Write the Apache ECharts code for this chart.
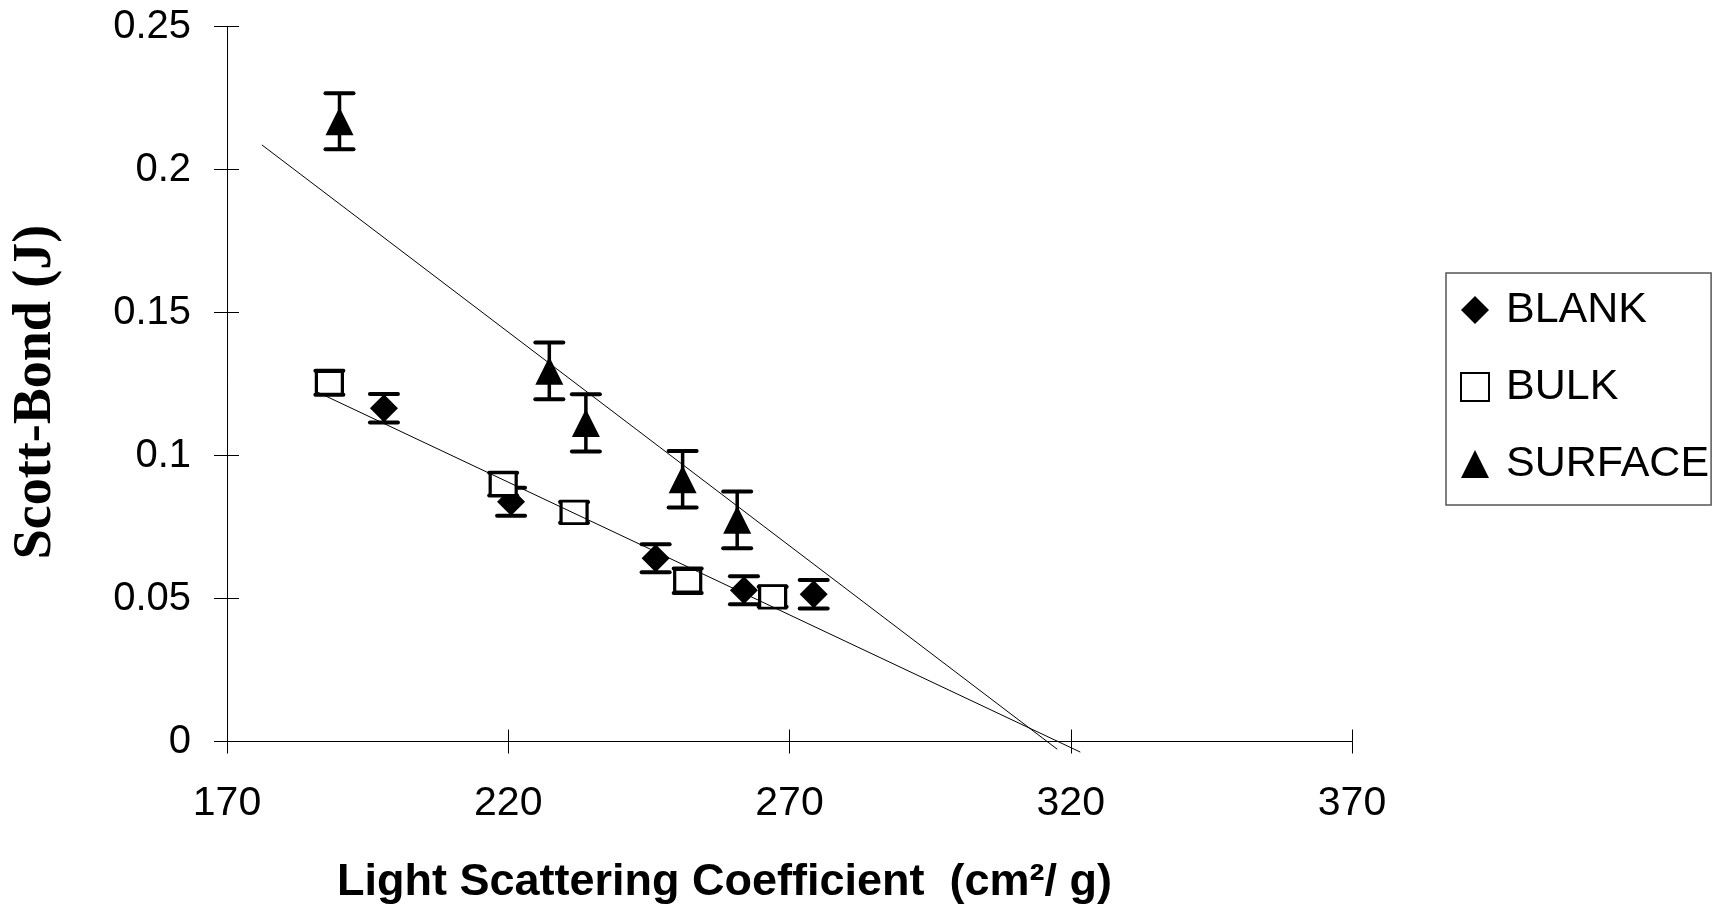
<!DOCTYPE html>
<html>
<head>
<meta charset="utf-8">
<title>Scott-Bond vs Light Scattering Coefficient</title>
<script src="https://cdn.jsdelivr.net/npm/echarts@6/dist/echarts.min.js"></script>
<style>
  html, body { margin: 0; padding: 0; background: #fff; }
  #chart { width: 1733px; height: 916px; }
</style>
</head>
<body>
<div id="chart"></div>
<script>
// data
var blankX = [197.9, 220.5, 246.2, 261.9, 274.3];
var blankY = [0.1165, 0.0838, 0.0641, 0.0529, 0.0515];
var blankErr = [0.005, 0.0049, 0.0049, 0.0049, 0.005];

var bulkX = [188.2, 219.1, 231.7, 251.9, 267.0];
var bulkY = [0.1254, 0.0900, 0.0801, 0.0562, 0.0506];
var bulkErr = [0.0042, 0.004, 0.0036, 0.0043, 0.0035];

var surfaceX = [190.0, 227.3, 233.8, 251.0, 260.7];
var surfaceY = [0.2169, 0.1296, 0.1114, 0.0917, 0.0775];
var surfaceErr = [0.0098, 0.0099, 0.01, 0.0099, 0.0099];

// trend line end points
var surfaceTrendX = [176.2, 317.6];
var surfaceTrendY = [0.2086, -0.0027];
var bulkTrendX = [185.7, 321.7];
var bulkTrendY = [0.1225, -0.0037];

var xTicks = [170, 370, 50];
var yTicks = [0, 0.25, 0.05];

function pts(xs, ys) {
    return xs.map(function (x, i) { return [x, ys[i]]; });
}
function errPts(xs, ys, es) {
    return xs.map(function (x, i) { return [x, ys[i], es[i]]; });
}

// error bar: stem + two caps
function renderErr(params, api) {
    var x = api.value(0), y = api.value(1), e = api.value(2);
    var top = api.coord([x, y + e]);
    var bot = api.coord([x, y - e]);
    var w = 14;
    var st = { stroke: '#000', lineWidth: 4, lineCap: 'round' };
    return {
        type: 'group',
        children: [
            { type: 'line', shape: { x1: top[0], y1: top[1], x2: bot[0], y2: bot[1] }, style: { stroke: '#000', lineWidth: 3.5 } },
            { type: 'line', shape: { x1: top[0] - w, y1: top[1], x2: top[0] + w, y2: top[1] }, style: st },
            { type: 'line', shape: { x1: bot[0] - w, y1: bot[1], x2: bot[0] + w, y2: bot[1] }, style: st }
        ]
    };
}

var sans = 'Liberation Sans, Arial, sans-serif';
var chart = echarts.init(document.getElementById('chart'));

var option = {
    backgroundColor: '#fff',
    animation: false,
    grid: { left: 227, top: 26.5, width: 1125, height: 715, outerBoundsMode: 'none' },
    legend: {
        orient: 'vertical',
        left: 1446,
        top: 273,
        padding: [14, 2, 18, 14],
        itemWidth: 28,
        itemHeight: 28,
        itemGap: 31,
        selectedMode: false,
        borderColor: '#555',
        borderWidth: 1.5,
        textStyle: { color: '#000', fontSize: 43, fontFamily: sans, lineHeight: 46, padding: [0, 0, 0, 12] },
        data: [
            { name: 'BLANK', icon: 'diamond' },
            { name: 'BULK', icon: 'rect' },
            { name: 'SURFACE', icon: 'triangle' }
        ]
    },
    xAxis: [{
        type: 'value',
        min: xTicks[0], max: xTicks[1], interval: xTicks[2],
        position: 'bottom',
        name: 'Light Scattering Coefficient  (cm²/ g)',
        nameLocation: 'middle',
        nameGap: 119,
        nameTextStyle: { color: '#000', fontSize: 45, fontWeight: 'bold', fontFamily: sans, padding: [0, 130, 0, 0] },
        splitLine: { show: false },
        axisLine: { show: true, lineStyle: { color: '#000', width: 1 } },
        axisTick: { show: true, inside: false, length: 12, lineStyle: { color: '#000', width: 1 } },
        axisLabel: { color: '#000', fontSize: 41, fontFamily: sans, margin: 42 }
    }, {
        type: 'value',
        min: xTicks[0], max: xTicks[1], interval: xTicks[2],
        position: 'bottom',
        offset: 0,
        splitLine: { show: false },
        axisLine: { show: false },
        axisTick: { show: true, inside: true, length: 12, lineStyle: { color: '#000', width: 1 } },
        axisLabel: { show: false }
    }],
    yAxis: [{
        type: 'value',
        min: yTicks[0], max: yTicks[1], interval: yTicks[2],
        position: 'left',
        name: 'Scott-Bond (J)',
        nameLocation: 'middle',
        nameGap: 164,
        nameTextStyle: { color: '#000', fontSize: 54, fontWeight: 'bold', fontFamily: 'Liberation Serif, Times New Roman, serif', padding: [0, 16, 0, 0] },
        splitLine: { show: false },
        axisLine: { show: true, lineStyle: { color: '#000', width: 1 } },
        axisTick: { show: true, inside: false, length: 13, lineStyle: { color: '#000', width: 1 } },
        axisLabel: { color: '#000', fontSize: 40, fontFamily: sans, margin: 36 }
    }, {
        type: 'value',
        min: yTicks[0], max: yTicks[1], interval: yTicks[2],
        position: 'left',
        offset: 0,
        splitLine: { show: false },
        axisLine: { show: false },
        axisTick: { show: true, inside: true, length: 12, lineStyle: { color: '#000', width: 1 } },
        axisLabel: { show: false }
    }],
    series: [
        {
            name: 'BLANK err', type: 'custom', renderItem: renderErr, z: 2,
            encode: { x: 0, y: 1 }, data: errPts(blankX, blankY, blankErr), silent: true
        },
        {
            name: 'BULK err', type: 'custom', renderItem: renderErr, z: 3,
            encode: { x: 0, y: 1 }, data: errPts(bulkX, bulkY, bulkErr), silent: true
        },
        {
            name: 'SURFACE err', type: 'custom', renderItem: renderErr, z: 2,
            encode: { x: 0, y: 1 }, data: errPts(surfaceX, surfaceY, surfaceErr), silent: true
        },
        {
            name: 'BLANK', type: 'scatter', symbol: 'diamond', symbolSize: 28, z: 3,
            itemStyle: { color: '#000', opacity: 1 },
            data: pts(blankX, blankY)
        },
        {
            name: 'BULK', type: 'scatter', symbol: 'rect', symbolSize: [26, 22.5], z: 4,
            itemStyle: { color: '#fff', borderColor: '#000', borderWidth: 3, opacity: 1 },
            data: pts(bulkX, bulkY)
        },
        {
            name: 'SURFACE', type: 'scatter', symbol: 'triangle', symbolSize: 28, z: 3,
            itemStyle: { color: '#000', opacity: 1 },
            data: pts(surfaceX, surfaceY)
        },
        {
            name: 'SURFACE trend', type: 'line', showSymbol: false, symbol: 'none', clip: false, z: 6, silent: true,
            lineStyle: { color: '#000', width: 1 },
            data: pts(surfaceTrendX, surfaceTrendY)
        },
        {
            name: 'BULK trend', type: 'line', showSymbol: false, symbol: 'none', clip: false, z: 6, silent: true,
            lineStyle: { color: '#000', width: 1 },
            data: pts(bulkTrendX, bulkTrendY)
        }
    ]
};

chart.setOption(option);
</script>
</body>
</html>
